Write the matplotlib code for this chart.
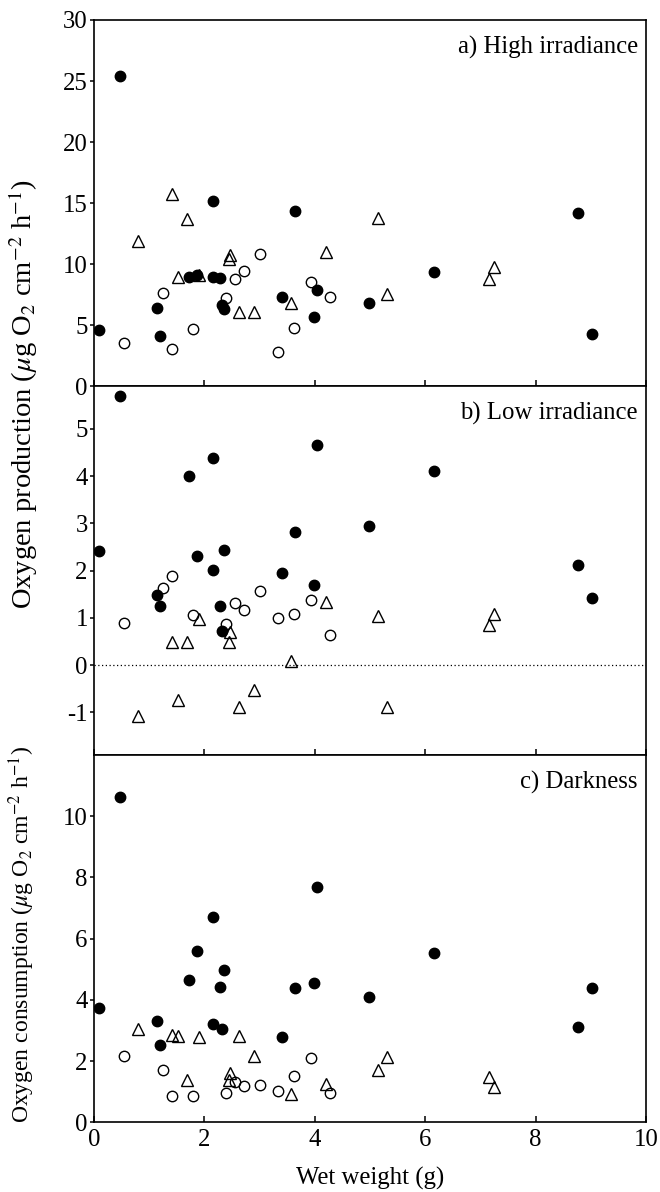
import numpy as np
import matplotlib.pyplot as plt

plt.rcParams['font.family'] = ['Liberation Serif', 'DejaVu Serif']
plt.rcParams['mathtext.fontset'] = 'stix'
plt.rcParams['axes.unicode_minus'] = False

# filled circles
x_solid = [0.09, 0.47, 1.15, 1.19, 1.72, 1.87, 2.15, 2.16, 2.28, 2.32, 2.36,
           3.41, 3.65, 3.99, 4.04, 4.99, 6.16, 8.77, 9.02]
high_solid = [4.6, 25.4, 6.4, 4.1, 9.0, 9.1, 9.0, 15.2, 8.9, 6.7, 6.3,
              7.3, 14.4, 5.7, 7.9, 6.8, 9.4, 14.2, 4.3]
low_solid = [2.42, 5.69, 1.49, 1.26, 4.01, 2.30, 2.02, 4.39, 1.26, 0.72, 2.43,
             1.95, 2.82, 1.70, 4.66, 2.95, 4.10, 2.12, 1.42]
dark_solid = [3.73, 10.61, 3.30, 2.51, 4.66, 5.60, 3.22, 6.69, 4.43, 3.06, 4.99,
              2.77, 4.38, 4.56, 7.69, 4.09, 5.52, 3.10, 4.37]

# open circles
x_open = [0.55, 1.25, 1.41, 1.80, 2.40, 2.55, 2.71, 3.00, 3.33, 3.63, 3.94, 4.28]
high_open = [3.52, 7.69, 3.03, 4.69, 7.22, 8.83, 9.48, 10.85, 2.86, 4.80, 8.56, 7.33]
low_open = [0.89, 1.63, 1.88, 1.07, 0.87, 1.32, 1.17, 1.56, 1.00, 1.08, 1.37, 0.64]
dark_open = [2.17, 1.70, 0.86, 0.85, 0.96, 1.32, 1.20, 1.23, 1.02, 1.50, 2.11, 0.96]

# open triangles
x_tri = [0.79, 1.41, 1.53, 1.69, 1.91, 2.45, 2.47, 2.63, 2.90, 3.57, 4.21,
         5.14, 5.30, 7.16, 7.25]
high_tri = [11.88, 15.75, 8.94, 13.74, 9.13, 10.44, 10.79, 6.08, 6.13, 6.79, 11.01,
            13.82, 7.60, 8.80, 9.76]
low_tri = [-1.08, 0.48, -0.74, 0.48, 0.97, 0.50, 0.71, -0.88, -0.52, 0.08, 1.33,
           1.04, -0.88, 0.84, 1.08]
dark_tri = [3.06, 2.84, 2.82, 1.39, 2.78, 1.37, 1.62, 2.82, 2.16, 0.94, 1.26,
            1.70, 2.13, 1.48, 1.16]

titles = ['a) High irradiance', 'b) Low irradiance', 'c) Darkness']
ylims = [(0, 30), (-1.9, 5.9), (0, 12)]
yticks = [np.arange(0, 31, 5), np.arange(-1, 6, 1), np.arange(0, 11, 2)]
xticks = [0, 2, 4, 6, 8, 10]

FS = 17.8


def draw_panel(ax, ys_solid, ys_open, ys_tri):
    ax.plot(x_tri, ys_tri, linestyle='none', marker='^', ms=8.5,
            mfc='none', mec='black', mew=1.0)
    ax.plot(x_open, ys_open, linestyle='none', marker='o', ms=7.5,
            mfc='none', mec='black', mew=1.0)
    ax.plot(x_solid, ys_solid, linestyle='none', marker='o', ms=7.5,
            color='black')


fig, axes = plt.subplots(3, 1, figsize=(6.6, 11.92), dpi=100, sharex=True,
                         gridspec_kw={'height_ratios': [367, 369, 368], 'hspace': 0})
fig.subplots_adjust(left=94 / 660, right=646 / 660, top=1 - 20 / 1192,
                    bottom=1 - 1122.3 / 1192)

panels = [(high_solid, high_open, high_tri),
          (low_solid, low_open, low_tri),
          (dark_solid, dark_open, dark_tri)]

for i, ax in enumerate(axes):
    draw_panel(ax, *panels[i])
    ax.set_xlim(0, 10)
    ax.set_ylim(*ylims[i])
    ax.set_yticks(yticks[i])
    ax.set_xticks(xticks)
    ax.text(0.985, 0.957, titles[i], transform=ax.transAxes,
            ha='right', va='top', fontsize=FS)
    for s in ax.spines.values():
        s.set_linewidth(1.2)
    ax.tick_params(axis='x', direction='in', length=4, width=1.1,
                   labelsize=FS, pad=5)
    ax.tick_params(axis='y', direction='out', length=3, width=1.1,
                   labelsize=FS, pad=1.5)

axes[1].axhline(0, color='black', linestyle=(0, (1, 2)), linewidth=0.9)

axes[2].set_xlabel('Wet weight (g)', fontsize=FS, labelpad=11)

# the production label spans the two light panels
fig.text(23 / 660, 1 - 394 / 1192,
         'Oxygen production ($\\mu$g O$_2$ cm$^{-2}$ h$^{-1}$)',
         rotation=90, ha='center', va='center', fontsize=20.5)
fig.text(22 / 660, 1 - 934 / 1192,
         'Oxygen consumption ($\\mu$g O$_2$ cm$^{-2}$ h$^{-1}$)',
         rotation=90, ha='center', va='center', fontsize=17)

fig.savefig('out.png', dpi=100)
